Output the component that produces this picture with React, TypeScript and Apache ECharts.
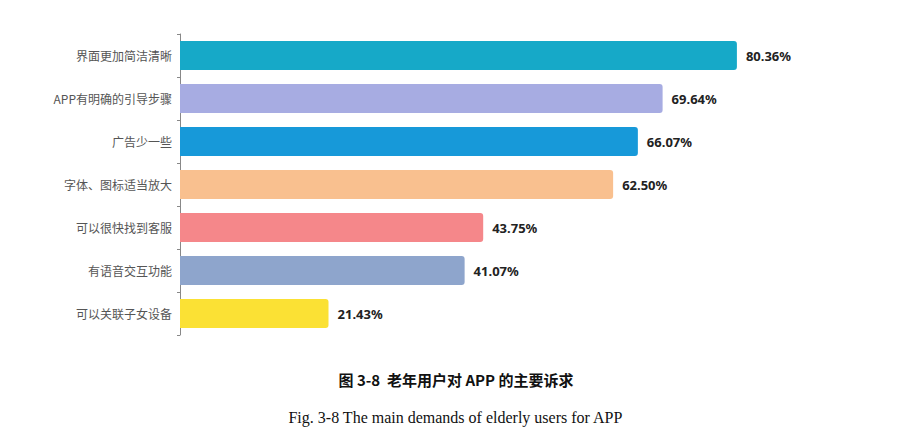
import React, { useEffect, useRef } from "react";
import * as echarts from "echarts";

const categories = ["界面更加简洁清晰", "APP有明确的引导步骤", "广告少一些", "字体、图标适当放大", "可以很快找到客服", "有语音交互功能", "可以关联子女设备"];
const values = [80.36, 69.64, 66.07, 62.5, 43.75, 41.07, 21.43];
const colors = ["#16A9C8", "#A7ACE2", "#1799D9", "#F9C08F", "#F5878A", "#8EA5CC", "#FBE134"];

export default function App() {
  const ref = useRef<HTMLDivElement>(null);
  useEffect(() => {
    const chart = echarts.init(ref.current!, null, { renderer: "svg" });
    chart.setOption({
      animation: false,
      grid: { left: 172, right: 31, top: 26, bottom: 94 },
      xAxis: { type: "value", min: 0, max: 100, show: false },
      yAxis: {
        type: "category",
        inverse: true,
        data: categories,
        axisLine: { lineStyle: { color: "#888" } },
        axisTick: { show: true, length: 3, lineStyle: { color: "#888" } },
        axisLabel: { color: "#555", fontSize: 12, margin: 8, fontFamily: "Noto Sans CJK SC" },
      },
      series: [{
        type: "bar",
        barWidth: 29,
        data: values.map((v, i) => ({ value: v, itemStyle: { color: colors[i], borderRadius: [0, 3, 3, 0] } })),
        label: { show: true, position: "right", distance: 9, formatter: (p: any) => p.value.toFixed(2) + "%", color: "#222", fontSize: 13, fontWeight: "bold", fontFamily: "Noto Sans" },
      }],
      graphic: [
        { type: "text", left: "center", top: 364, style: { text: "图 3-8  老年用户对 APP 的主要诉求", font: "bold 15px 'Noto Sans CJK SC', serif", fill: "#111" } },
        { type: "text", left: "center", top: 401, style: { text: "Fig. 3-8 The main demands of elderly users for APP", font: "16px 'Liberation Serif', serif", fill: "#111" } },
      ],
    });
    return () => chart.dispose();
  }, []);
  return <div ref={ref} style={{ width: 896, height: 421 }} />;
}
